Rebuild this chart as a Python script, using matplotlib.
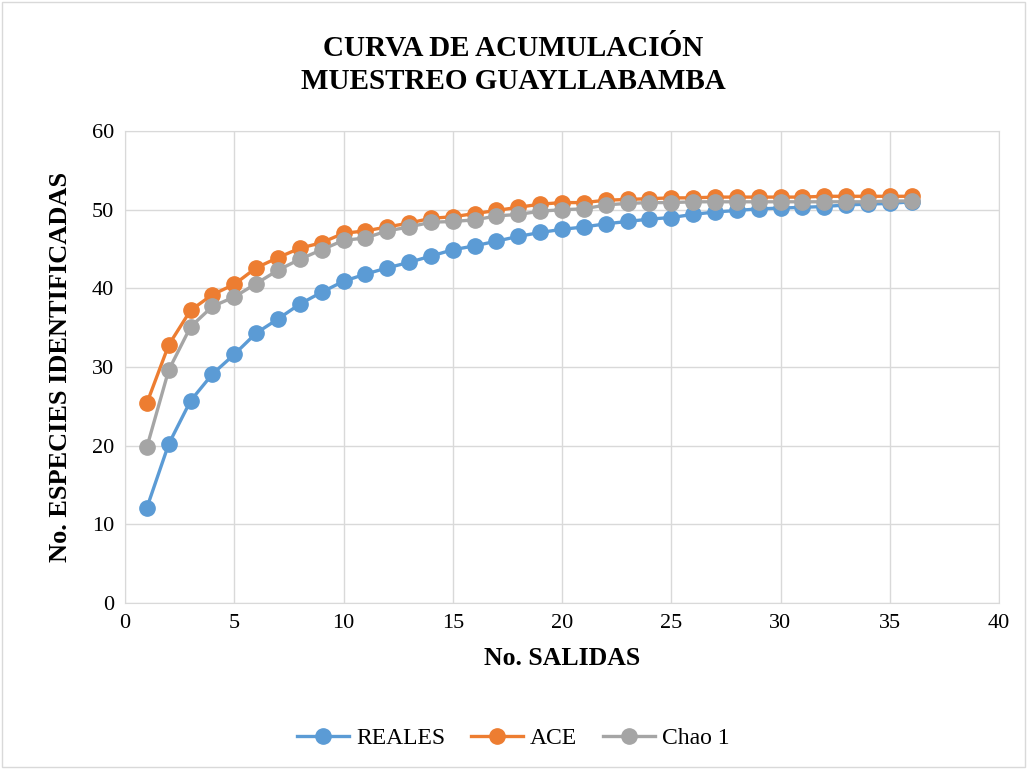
import matplotlib; matplotlib.use('Agg')
import matplotlib.pyplot as plt
from matplotlib.patches import Rectangle

plt.rcParams['font.family'] = ['Liberation Serif', 'DejaVu Serif']

salidas = list(range(1, 37))
reales = [12.1, 20.2, 25.7, 29.1, 31.6, 34.3, 36.1, 38.0, 39.5, 40.9,
          41.8, 42.6, 43.3, 44.1, 44.9, 45.4, 46.0, 46.6, 47.1, 47.5,
          47.8, 48.2, 48.5, 48.8, 49.0, 49.4, 49.7, 49.9, 50.1, 50.2,
          50.3, 50.4, 50.6, 50.7, 50.8, 51.0]
ace = [25.4, 32.8, 37.2, 39.2, 40.5, 42.6, 43.9, 45.1, 45.8, 47.0,
       47.3, 47.8, 48.3, 48.9, 49.1, 49.5, 49.9, 50.3, 50.7, 50.9,
       50.9, 51.2, 51.3, 51.4, 51.5, 51.5, 51.6, 51.6, 51.6, 51.6,
       51.6, 51.7, 51.7, 51.7, 51.7, 51.7]
chao1 = [19.8, 29.6, 35.1, 37.7, 38.9, 40.6, 42.3, 43.7, 44.9, 46.1,
         46.4, 47.3, 47.8, 48.4, 48.5, 48.7, 49.2, 49.4, 49.8, 50.0,
         50.1, 50.6, 50.8, 50.9, 50.9, 51.0, 51.0, 51.0, 51.0, 51.0,
         51.0, 51.0, 51.0, 51.0, 51.1, 51.1]

series = [('REALES', reales, '#5B9BD5'), ('ACE', ace, '#ED7D31'), ('Chao 1', chao1, '#A5A5A5')]

fig = plt.figure(figsize=(10.27, 7.69), dpi=100)
ax = fig.add_axes([125/1027, 1-603/769, 874/1027, 472/769])
fig.patches.append(Rectangle((0.002, 0.002), 0.996, 0.996, transform=fig.transFigure,
                             fill=False, edgecolor='#D9D9D9', lw=1))

for name, vals, col in series:
    ax.plot(salidas, vals, color=col, lw=2.4, marker='o', ms=11, label=name)

ax.set_xlim(0, 40); ax.set_ylim(0, 60)
ax.set_xticks(range(0, 41, 5)); ax.set_yticks(range(0, 61, 10))
ax.grid(True, color='#D9D9D9', lw=1)
ax.set_axisbelow(True)
for s in ax.spines.values(): s.set_color('#D9D9D9')
ax.tick_params(length=0, labelsize=16, pad=8, colors='black')
ax.set_xlabel('No. SALIDAS', fontsize=18.5, fontweight='bold', labelpad=10)
ax.set_ylabel('No. ESPECIES IDENTIFICADAS', fontsize=19, fontweight='bold', labelpad=14)
fig.text(0.5, 1-65/769, 'CURVA DE ACUMULACIÓN\nMUESTREO GUAYLLABAMBA', ha='center', va='center',
         fontsize=21, fontweight='bold', linespacing=1.3)
fig.legend(loc='center', bbox_to_anchor=(0.5, 1-738/769), ncol=3, frameon=False, fontsize=17,
           handlelength=2.2, columnspacing=1.1, handletextpad=0.3)

plt.savefig('out.png', dpi=100)
